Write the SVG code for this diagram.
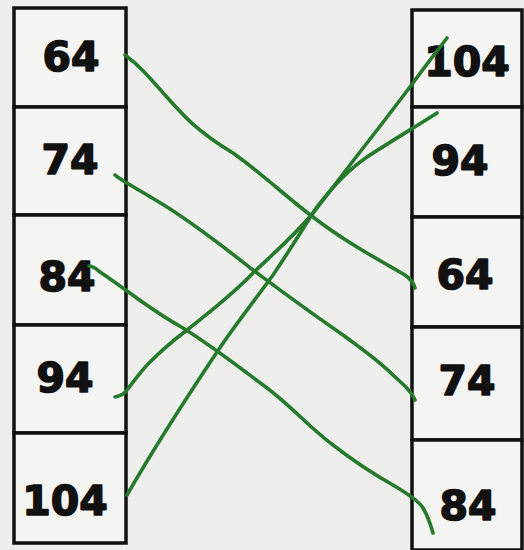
<svg xmlns="http://www.w3.org/2000/svg" width="524" height="550" viewBox="0 0 524 550">
<style>
.box{fill:#f4f4f2;stroke:#111;stroke-width:3.5}
.num{font-family:"DejaVu Sans",sans-serif;font-weight:bold;font-size:41px;fill:#111;stroke:#111;stroke-width:1.6;stroke-linejoin:round;text-anchor:middle}
.ln{fill:none;stroke:#267a2c;stroke-width:3.6;stroke-linecap:round;stroke-linejoin:round}
</style>
<rect width="524" height="550" fill="#eeeeec"/>
<g id="left-64"><rect class="box" x="14" y="8" width="112" height="99"/><text class="num" x="71" y="71">64</text></g>
<g id="left-74"><rect class="box" x="14" y="107" width="112" height="108"/><text class="num" x="70" y="174">74</text></g>
<g id="left-84"><rect class="box" x="14" y="215" width="112" height="110"/><text class="num" x="67" y="291">84</text></g>
<g id="left-94"><rect class="box" x="14" y="325" width="112" height="108"/><text class="num" x="65" y="392">94</text></g>
<g id="left-104"><rect class="box" x="14" y="433" width="112" height="110"/><text class="num" x="65" y="515">104</text></g>
<g id="right-104"><rect class="box" x="412" y="10" width="110" height="97"/><text class="num" x="467" y="76">104</text></g>
<g id="right-94"><rect class="box" x="412" y="107" width="110" height="110"/><text class="num" x="460" y="175">94</text></g>
<g id="right-64"><rect class="box" x="412" y="217" width="110" height="110"/><text class="num" x="465" y="289">64</text></g>
<g id="right-74"><rect class="box" x="412" y="327" width="110" height="113"/><text class="num" x="467" y="395">74</text></g>
<g id="right-84"><rect class="box" x="412" y="440" width="110" height="110"/><text class="num" x="468" y="520">84</text></g>
<g id="connectors">
<path class="ln" d="M125,55 C140,66 150,78 165,95 C180,112 195,130 233,153 C260,172 290,200 313,217 C340,238 370,255 405,275 C412,280 414,284 415,288"/>
<path class="ln" d="M115,175 C120,180 140,190 167,207 C200,228 225,248 253,270 C280,290 300,305 333,328 C360,347 380,362 393,375 C405,386 412,392 415,400"/>
<path class="ln" d="M89,266 C94,266 97,270 100,272 C130,292 150,310 183,328 C215,348 240,368 267,388 C290,405 310,428 333,445 C355,462 375,475 393,485 C410,495 420,503 423,508 C428,516 431,526 433,533"/>
<path class="ln" d="M115,397 C120,396 125,393 127,390 C135,380 140,372 150,362 C162,350 170,343 187,330 C210,312 235,292 253,273 C275,252 295,235 313,213 C335,185 352,162 367,143 C385,120 400,100 413,83 C425,66 438,50 447,38"/>
<path class="ln" d="M127,495 C150,455 185,400 217,352 C235,325 255,300 273,275 C290,250 305,225 317,207 C330,190 345,172 367,157 C390,142 415,127 437,113"/>
</g>
</svg>
